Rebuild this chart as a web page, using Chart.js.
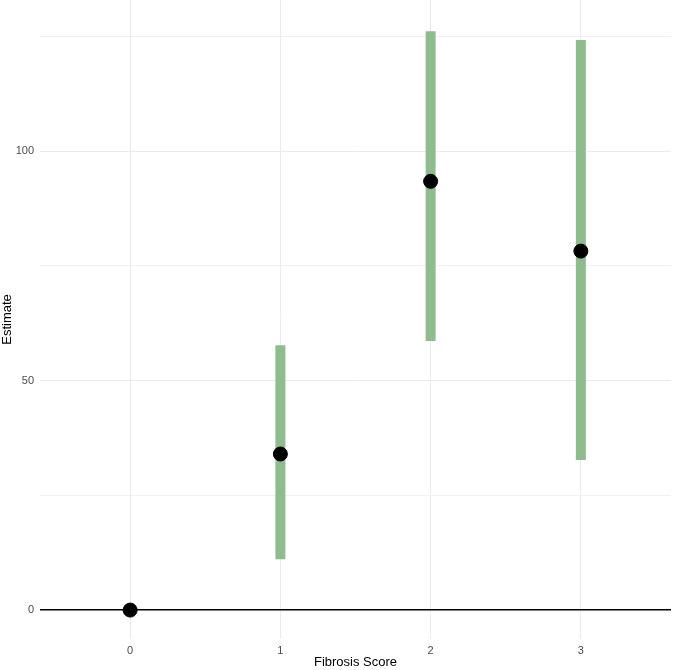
<!DOCTYPE html>
<html>
<head>
<meta charset="utf-8">
<script src="https://cdn.jsdelivr.net/npm/chart.js@4/dist/chart.umd.min.js"></script>
<style>
  html, body { margin: 0; padding: 0; background: #fff; }
  #wrap { width: 675px; height: 670px; }
</style>
</head>
<body>
<div id="wrap"><canvas id="chart" width="675" height="670"></canvas></div>
<script>
// fibrosis score categories and model estimates with 95% intervals
const scores = [0, 1, 2, 3];
const estimates = [0, 34.0, 93.4, 78.2];
const lower = [null, 11.1, 58.6, 32.7];
const upper = [null, 57.7, 126.1, 124.2];
const yTicks = [0, 50, 100];

const datasets = [];
scores.forEach((s, i) => {
  if (lower[i] == null) return;
  datasets.push({
    type: "line",
    order: 2,
    data: [{ x: s, y: lower[i] }, { x: s, y: upper[i] }],
    borderColor: "#8fbc8f",
    borderWidth: 10,
    borderCapStyle: "butt",
    pointRadius: 0,
    fill: false,
  });
});
datasets.push({
  type: "scatter",
  order: 0,
  data: scores.map((s, i) => ({ x: s, y: estimates[i] })),
  backgroundColor: "#000",
  borderColor: "#000",
  pointRadius: 7,
  pointHoverRadius: 7,
});

const ctx = document.getElementById("chart");
new Chart(ctx, {
  type: "scatter",
  data: { datasets: datasets },
  options: {
    responsive: false,
    animation: false,
    clip: false,
    layout: { padding: { top: 0, right: 4, left: 0, bottom: 0 }, autoPadding: false },
    plugins: { legend: { display: false }, tooltip: { enabled: false } },
    scales: {
      x: {
        type: "linear",
        min: -0.6,
        max: 3.6,
        border: { display: false },
        grid: { color: "#ebebeb", lineWidth: 1, drawTicks: false },
        ticks: {
          stepSize: 1,
          includeBounds: false,
          padding: 5,
          color: "#4d4d4d",
          font: { family: "Liberation Sans", size: 11 },
        },
        title: {
          display: true,
          text: "Fibrosis Score",
          color: "#000",
          padding: { top: 0, bottom: 0 },
          font: { family: "Liberation Sans", size: 13 },
        },
        afterFit: (axis) => {
          axis.height = 31;
          axis.paddingLeft = 0;
          axis.paddingRight = 0;
        },
      },
      y: {
        min: -6.3,
        max: 132.9,
        border: { display: false },
        grid: {
          drawTicks: false,
          color: (c) => (c.tick && c.tick.value === 0 ? "#000" : "#ebebeb"),
          lineWidth: (c) => (c.tick && c.tick.value === 0 ? 1.5 : (c.tick && yTicks.includes(c.tick.value) ? 1 : 0.7)),
        },
        ticks: {
          stepSize: 25,
          includeBounds: false,
          padding: 6,
          color: "#4d4d4d",
          font: { family: "Liberation Sans", size: 11 },
          callback: (v) => (yTicks.includes(v) ? v : ""),
        },
        title: {
          display: true,
          text: "Estimate",
          color: "#000",
          padding: { top: 0, bottom: 0 },
          font: { family: "Liberation Sans", size: 13 },
        },
        afterFit: (axis) => {
          axis.width = 40;
          axis.paddingTop = 0;
          axis.paddingBottom = 0;
        },
      },
    },
  },
});
</script>
</body>
</html>
